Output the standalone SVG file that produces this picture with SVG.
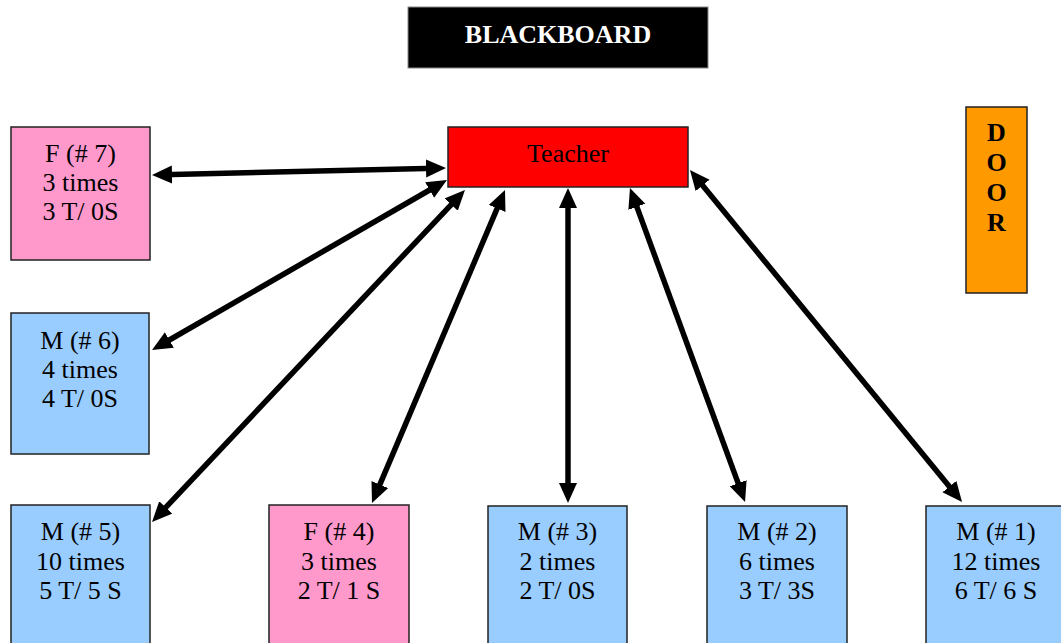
<svg xmlns="http://www.w3.org/2000/svg" width="1061" height="643" viewBox="0 0 1061 643">
<style>
  .box { stroke: #222; stroke-width: 1.5; }
  .pink { fill: #FF99CC; }
  .blue { fill: #99CCFF; }
  .t { font-family: "Liberation Serif", "Times New Roman", serif; font-size: 26px; fill: #000; text-anchor: middle; }
  .b { font-family: "Liberation Serif", "Times New Roman", serif; font-size: 26px; font-weight: bold; text-anchor: middle; }
  .conn line { stroke: #000; stroke-width: 5.5; marker-start: url(#ah); marker-end: url(#ah); }
</style>
<defs>
  <marker id="ah" markerUnits="userSpaceOnUse" markerWidth="22" markerHeight="20" refX="10" refY="9" orient="auto-start-reverse">
    <path d="M0,0 L20,9 L0,18 z" fill="#000"/>
  </marker>
</defs>
<rect width="1061" height="643" fill="#fff"/>

<g id="blackboard">
  <rect x="408" y="7" width="300" height="61" fill="#000" stroke="#888" stroke-width="1"/>
  <text class="b" x="558" y="43" fill="#fff">BLACKBOARD</text>
</g>

<g id="door">
  <rect class="box" x="966" y="107" width="61" height="186" fill="#FF9900"/>
  <text class="b" x="996.5" y="141" fill="#000">D</text>
  <text class="b" x="996.5" y="171" fill="#000">O</text>
  <text class="b" x="996.5" y="201" fill="#000">O</text>
  <text class="b" x="996.5" y="231" fill="#000">R</text>
</g>

<g id="teacher">
  <rect class="box" x="448" y="127" width="240" height="60" fill="#FF0000"/>
  <text class="t" x="568" y="162">Teacher</text>
</g>

<g id="f7">
  <rect class="box pink" x="11" y="127" width="139" height="133"/>
  <text class="t" x="80.5" y="162">F (# 7)</text>
  <text class="t" x="80.5" y="191">3 times</text>
  <text class="t" x="80.5" y="220">3 T/ 0S</text>
</g>

<g id="m6">
  <rect class="box blue" x="11" y="313" width="138" height="141"/>
  <text class="t" x="80" y="349">M (# 6)</text>
  <text class="t" x="80" y="378">4 times</text>
  <text class="t" x="80" y="407">4 T/ 0S</text>
</g>

<g id="m5">
  <rect class="box blue" x="11" y="505" width="139" height="145"/>
  <text class="t" x="80.5" y="540">M (# 5)</text>
  <text class="t" x="80.5" y="570">10 times</text>
  <text class="t" x="80.5" y="599">5 T/ 5 S</text>
</g>

<g id="f4">
  <rect class="box pink" x="269" y="505" width="140" height="145"/>
  <text class="t" x="339" y="540">F (# 4)</text>
  <text class="t" x="339" y="570">3 times</text>
  <text class="t" x="339" y="599">2 T/ 1 S</text>
</g>

<g id="m3">
  <rect class="box blue" x="488" y="506" width="139" height="145"/>
  <text class="t" x="557.5" y="540">M (# 3)</text>
  <text class="t" x="557.5" y="570">2 times</text>
  <text class="t" x="557.5" y="599">2 T/ 0S</text>
</g>

<g id="m2">
  <rect class="box blue" x="707" y="506" width="140" height="145"/>
  <text class="t" x="777" y="540">M (# 2)</text>
  <text class="t" x="777" y="570">6 times</text>
  <text class="t" x="777" y="599">3 T/ 3S</text>
</g>

<g id="m1">
  <rect class="box blue" x="926" y="506" width="140" height="145"/>
  <text class="t" x="996" y="540">M (# 1)</text>
  <text class="t" x="996" y="570">12 times</text>
  <text class="t" x="996" y="599">6 T/ 6 S</text>
</g>

<g id="connectors" class="conn">
  <line x1="162" y1="174.8" x2="436" y2="168.2"/>
  <line x1="160.7" y1="345" x2="438.3" y2="185"/>
  <line x1="158.9" y1="514.7" x2="458.1" y2="197.3"/>
  <line x1="375.9" y1="493.8" x2="501.1" y2="199.2"/>
  <line x1="568" y1="493" x2="568" y2="198"/>
  <line x1="741.6" y1="492.6" x2="633.4" y2="197.4"/>
  <line x1="955.7" y1="494.3" x2="696.3" y2="177.7"/>
</g>
</svg>
